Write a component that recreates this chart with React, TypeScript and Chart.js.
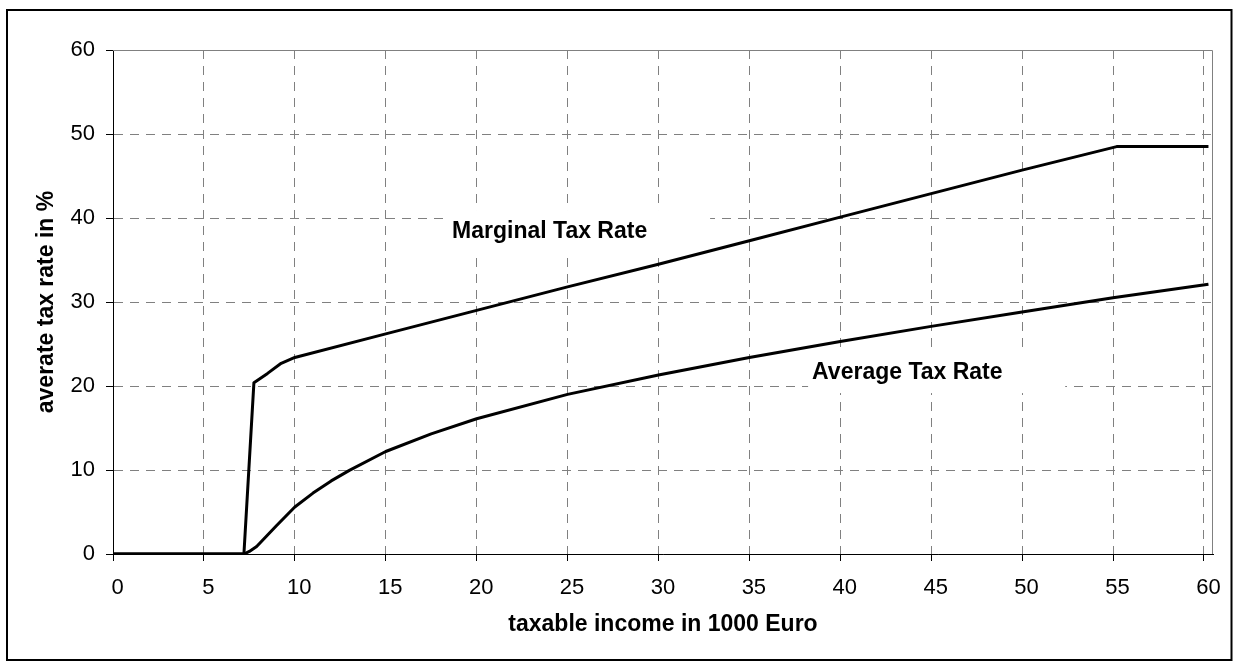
import React, { useEffect, useRef } from "react";
import { Chart, registerables } from "chart.js";

Chart.register(...registerables);

// ---- data ----
const incomeMarginal = [0, 7.2, 7.75, 8.5, 9.25, 10, 15, 20, 25, 30, 35, 40, 45, 50, 55.2, 60.25];
const marginalRate = [0, 0, 20.4, 21.5, 22.7, 23.4, 26.2, 29.0, 31.8, 34.5, 37.3, 40.1, 42.9, 45.7, 48.5, 48.5];

const incomeAverage = [0, 7.2, 7.5, 7.9, 9, 10, 11, 12, 13, 15, 17.5, 20, 25, 30, 35, 40, 45, 50, 55, 60.25];
const averageRate = [0, 0, 0.3, 0.9, 3.4, 5.6, 7.25, 8.7, 9.95, 12.2, 14.3, 16.1, 19.0, 21.3, 23.4, 25.3, 27.1, 28.8, 30.5, 32.1];

const seriesNames = ["Marginal Tax Rate", "Average Tax Rate"];
const xTitle = "taxable income in 1000 Euro";
const yTitle = "averate tax rate in %";

// text boxes inside the plot, in data units
const annotations = [
  { text: seriesNames[0], x: 18.65, y: 37.58, box: [18.26, 32.84, 40.95, 35.95] },
  { text: seriesNames[1], x: 38.45, y: 20.8, box: [38.23, 52.37, 24.4, 19.16] },
];

const FONT = '"Liberation Sans", Arial, sans-serif';

const decorPlugin = {
  id: "decor",
  beforeDatasetsDraw(chart: any) {
    const { ctx, scales } = chart;
    const x = scales.x;
    const y = scales.y;
    ctx.save();
    for (const a of annotations) {
      const l = x.getPixelForValue(a.box[0]);
      const r = x.getPixelForValue(a.box[1]);
      const t = y.getPixelForValue(a.box[2]);
      const b = y.getPixelForValue(a.box[3]);
      ctx.fillStyle = "#ffffff";
      ctx.fillRect(l, t, r - l, b - t);
      ctx.fillStyle = "#000000";
      ctx.font = `bold 23px ${FONT}`;
      ctx.textAlign = "left";
      ctx.textBaseline = "alphabetic";
      ctx.fillText(a.text, x.getPixelForValue(a.x), y.getPixelForValue(a.y));
    }
    ctx.restore();
  },
  afterDraw(chart: any) {
    const { ctx, chartArea: ca } = chart;
    ctx.save();
    ctx.setLineDash([]);
    ctx.strokeStyle = "#808080";
    ctx.lineWidth = 1;
    ctx.beginPath();
    ctx.moveTo(ca.left, ca.top + 0.5);
    ctx.lineTo(ca.right - 0.5, ca.top + 0.5);
    ctx.lineTo(ca.right - 0.5, ca.bottom);
    ctx.stroke();
    ctx.strokeStyle = "#000000";
    ctx.lineWidth = 2;
    ctx.strokeRect(7, 10, 1224.5, 650);
    ctx.restore();
  },
};

export default function App() {
  const ref = useRef<HTMLCanvasElement>(null);

  useEffect(() => {
    const canvas = ref.current;
    if (!canvas) return;
    const chart = new Chart(canvas, {
      type: "line",
      data: {
        datasets: [
          {
            label: seriesNames[0],
            data: incomeMarginal.map((v, i) => ({ x: v, y: marginalRate[i] })),
            borderColor: "#000000",
            borderWidth: 3,
            pointRadius: 0,
            tension: 0,
            fill: false,
            borderJoinStyle: "round",
          },
          {
            label: seriesNames[1],
            data: incomeAverage.map((v, i) => ({ x: v, y: averageRate[i] })),
            borderColor: "#000000",
            borderWidth: 3,
            pointRadius: 0,
            tension: 0,
            fill: false,
            borderJoinStyle: "round",
          },
        ],
      },
      options: {
        responsive: false,
        animation: false,
        devicePixelRatio: 1,
        layout: { padding: { left: 0, top: 50, right: 25, bottom: 0 } },
        plugins: {
          legend: { display: false },
          tooltip: { enabled: false },
          title: { display: false },
        },
        scales: {
          x: {
            type: "linear",
            min: 0,
            max: 60.5,
            afterFit: (s: any) => {
              s.height = 109;
            },
            ticks: {
              stepSize: 5,
              includeBounds: false,
              color: "#000000",
              font: { family: FONT, size: 22 },
              padding: 14,
              labelOffset: 4.5,
              maxRotation: 0,
            },
            grid: {
              color: "#808080",
              lineWidth: 1,
              drawTicks: true,
              tickLength: 7,
              tickColor: "#000000",
              tickWidth: 1,
            },
            border: { display: true, color: "#000000", width: 1, dash: [9, 7] },
            title: {
              display: true,
              text: xTitle,
              color: "#000000",
              font: { family: FONT, size: 23, weight: "bold" },
              padding: { top: 0, bottom: 25 },
            },
          },
          y: {
            type: "linear",
            min: 0,
            max: 60,
            afterFit: (s: any) => {
              s.width = 113;
            },
            ticks: {
              stepSize: 10,
              color: "#000000",
              font: { family: FONT, size: 22 },
              padding: 11,
            },
            grid: {
              color: "#808080",
              lineWidth: 1,
              drawTicks: true,
              tickLength: 7,
              tickColor: "#000000",
              tickWidth: 1,
            },
            border: { display: true, color: "#000000", width: 1, dash: [9, 7] },
            title: {
              display: true,
              text: yTitle,
              color: "#000000",
              font: { family: FONT, size: 23, weight: "bold" },
              padding: { top: 33, bottom: 0 },
            },
          },
        },
      } as any,
      plugins: [decorPlugin],
    });
    return () => chart.destroy();
  }, []);

  return (
    <div
      style={{
        position: "absolute",
        left: 0,
        top: 0,
        width: 1238,
        height: 663,
        background: "#ffffff",
      }}
    >
      <canvas ref={ref} width={1238} height={663} style={{ display: "block", width: 1238, height: 663 }} />
    </div>
  );
}
